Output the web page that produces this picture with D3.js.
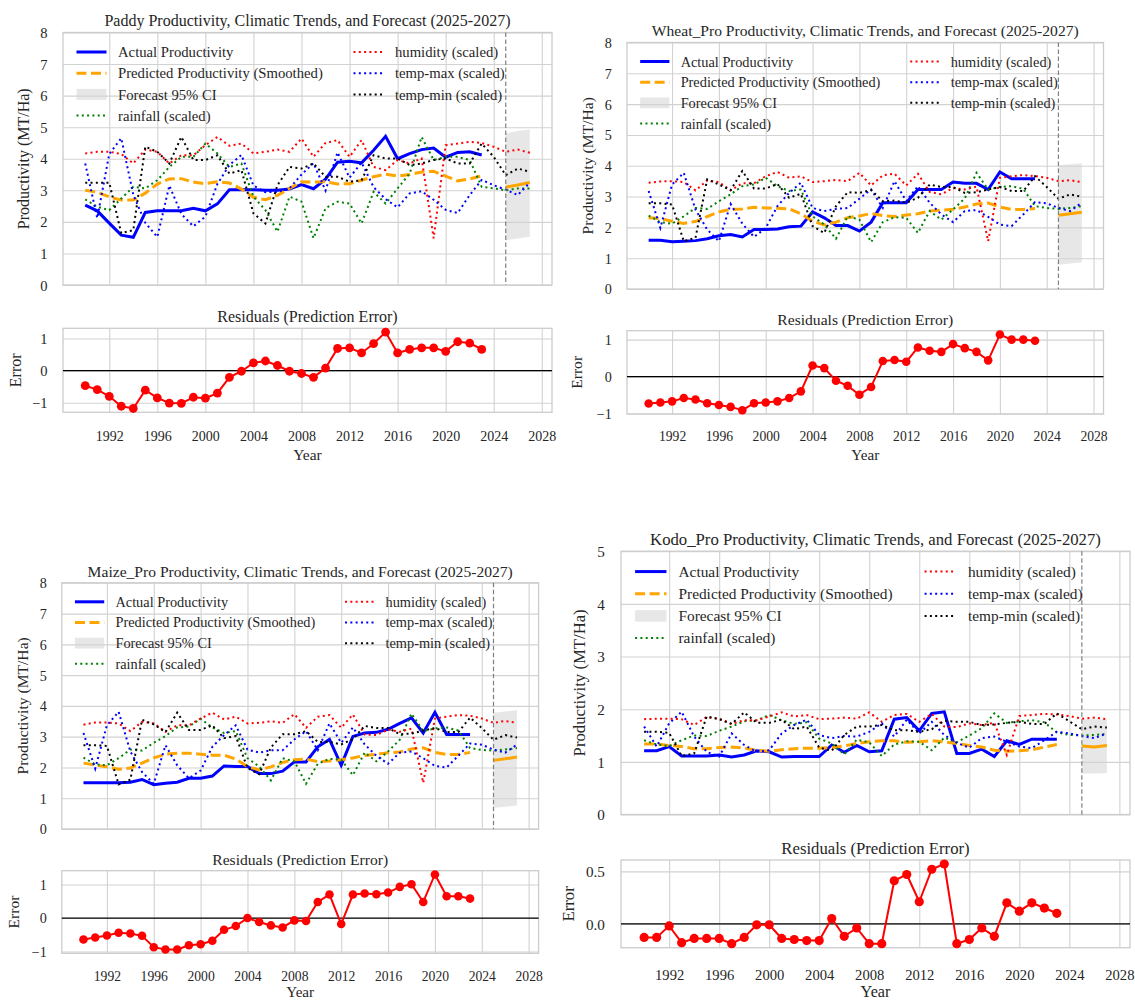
<!DOCTYPE html>
<html>
<head>
<meta charset="utf-8">
<script src="https://cdn.jsdelivr.net/npm/d3@7"></script>
<style>
body { margin: 0; background: #fff; }
svg { display: block; }
</style>
</head>
<body>
<svg id="fig" width="1135" height="1000"></svg>
<script>
// years on the x axis
var histYears = [1990,1991,1992,1993,1994,1995,1996,1997,1998,1999,2000,2001,2002,2003,2004,2005,2006,2007,2008,2009,2010,2011,2012,2013,2014,2015,2016,2017,2018,2019,2020,2021,2022,2023]
var climYears = [1990,1991,1992,1993,1994,1995,1996,1997,1998,1999,2000,2001,2002,2003,2004,2005,2006,2007,2008,2009,2010,2011,2012,2013,2014,2015,2016,2017,2018,2019,2020,2021,2022,2023,2024,2025,2026,2027]
var forecastYears = [2025, 2026, 2027]
var xTicks = [1992, 1996, 2000, 2004, 2008, 2012, 2016, 2020, 2024, 2028]
var forecastStart = 2025

var legendLabels = ["Actual Productivity", "Predicted Productivity (Smoothed)", "Forecast 95% CI", "rainfall (scaled)",
                    "humidity (scaled)", "temp-max (scaled)", "temp-min (scaled)"]

// Paddy
var paddyActual = [2.53,2.35,1.96,1.58,1.51,2.30,2.35,2.35,2.35,2.43,2.35,2.57,3.02,3.02,3.02,3.00,3.00,3.04,3.18,3.05,3.35,3.89,3.92,3.87,4.27,4.71,4.00,4.16,4.29,4.34,4.05,4.20,4.22,4.12]
var paddyPredicted = [3.00,2.94,2.79,2.69,2.69,2.91,3.20,3.36,3.37,3.26,3.21,3.27,3.23,3.04,2.78,2.70,2.84,3.06,3.27,3.26,3.27,3.20,3.21,3.32,3.43,3.51,3.45,3.50,3.58,3.60,3.45,3.30,3.36,3.46]
var paddyForecast = [3.10, 3.17, 3.25]
var paddyCiLow = [1.42, 1.47, 1.53]
var paddyCiHigh = [4.80, 4.88, 4.93]
var paddyRain = [2.71,2.48,2.37,2.74,3.11,3.06,3.32,3.74,4.06,4.06,4.48,4.17,3.74,3.85,2.80,2.37,1.69,2.80,2.64,1.48,2.43,2.64,2.58,1.95,2.95,2.58,3.06,3.53,4.69,3.96,4.06,4.06,3.96,3.11,3.06,3.00,3.06,3.06]
var paddyHumidity = [4.17,4.22,4.22,4.15,3.85,4.29,4.22,3.85,4.11,4.11,4.43,4.69,4.41,4.48,4.17,4.22,4.29,4.22,4.64,4.06,4.50,4.59,4.06,4.59,3.74,3.64,3.96,3.85,4.01,1.48,4.43,4.48,4.54,4.50,4.38,4.22,4.29,4.19]
var paddyTempMax = [3.85,2.12,4.15,4.65,2.86,1.97,1.52,3.15,2.25,1.86,2.17,3.20,3.80,4.12,3.15,2.94,2.95,3.06,3.50,3.86,2.99,4.20,3.40,3.88,3.10,2.72,2.46,2.90,2.97,2.70,2.38,2.28,2.85,3.33,3.16,3.02,2.85,3.24]
var paddyTempMin = [3.24,3.24,3.24,1.64,1.74,4.38,4.22,3.85,4.69,3.96,3.96,4.11,3.53,3.64,2.27,1.95,3.16,3.74,3.69,3.85,3.43,3.43,3.27,3.32,4.11,4.01,4.01,3.80,3.85,3.96,4.01,3.85,3.85,4.48,4.06,3.48,3.69,3.59]
var paddyResidual = [-0.47,-0.59,-0.80,-1.11,-1.18,-0.61,-0.85,-1.01,-1.02,-0.83,-0.86,-0.70,-0.21,-0.02,0.24,0.30,0.16,-0.02,-0.09,-0.21,0.08,0.69,0.71,0.55,0.84,1.20,0.55,0.66,0.71,0.71,0.60,0.90,0.86,0.66]

// Wheat_Pro
var wheatActual = [1.58,1.58,1.53,1.55,1.57,1.63,1.73,1.77,1.69,1.93,1.93,1.95,2.02,2.04,2.50,2.31,2.06,2.06,1.88,2.17,2.80,2.80,2.80,3.23,3.23,3.23,3.47,3.43,3.43,3.23,3.80,3.58,3.58,3.58]
var wheatPredicted = [2.31,2.28,2.20,2.13,2.19,2.35,2.50,2.59,2.60,2.65,2.63,2.62,2.60,2.44,2.20,2.08,2.17,2.31,2.37,2.45,2.38,2.35,2.40,2.44,2.53,2.56,2.59,2.66,2.76,2.79,2.66,2.58,2.58,2.61]
var wheatForecast = [2.39, 2.44, 2.49]
var wheatCiLow = [0.79, 0.83, 0.87]
var wheatCiHigh = [4.02, 4.05, 4.08]
var wheatRain = [2.38,2.17,2.12,2.36,2.63,2.60,2.85,3.07,3.34,3.39,3.61,3.34,3.18,3.23,2.36,2.09,1.63,2.36,2.25,1.52,2.17,2.33,2.31,1.82,2.53,2.25,2.58,2.94,3.77,3.23,3.31,3.34,3.25,2.69,2.63,2.60,2.63,2.69]
var wheatHumidity = [3.45,3.49,3.50,3.47,3.20,3.52,3.47,3.20,3.43,3.43,3.66,3.80,3.61,3.66,3.47,3.50,3.54,3.50,3.77,3.36,3.69,3.74,3.36,3.74,3.15,3.07,3.28,3.23,3.32,1.55,3.61,3.66,3.70,3.66,3.61,3.50,3.53,3.47]
var wheatTempMax = [3.18,1.98,3.39,3.77,2.58,1.93,1.55,2.76,2.12,1.69,1.98,2.69,3.12,3.45,2.63,2.53,2.60,2.63,2.93,3.23,2.63,3.50,2.85,3.34,2.80,2.42,2.17,2.53,2.56,2.34,2.09,2.04,2.42,2.82,2.78,2.63,2.53,2.80]
var wheatTempMin = [2.78,2.78,2.74,1.55,1.66,3.56,3.39,3.21,3.83,3.26,3.26,3.41,2.96,3.09,2.04,1.82,2.69,3.14,3.12,3.21,2.85,2.87,2.80,2.96,3.39,3.31,3.31,3.12,3.14,3.23,3.31,3.18,3.18,3.66,3.31,2.93,3.07,2.99]
var wheatResidual = [-0.73,-0.70,-0.67,-0.58,-0.62,-0.72,-0.77,-0.82,-0.91,-0.72,-0.70,-0.67,-0.58,-0.40,0.30,0.23,-0.11,-0.25,-0.49,-0.28,0.42,0.45,0.40,0.79,0.70,0.67,0.88,0.77,0.67,0.44,1.14,1.00,1.00,0.97]

// Maize_Pro
var maizeActual = [1.50,1.50,1.50,1.50,1.52,1.61,1.44,1.49,1.52,1.65,1.65,1.72,2.05,2.03,2.03,1.80,1.80,1.88,2.18,2.18,2.67,2.91,2.07,3.01,3.12,3.14,3.24,3.43,3.61,3.12,3.79,3.07,3.07,3.07]
var maizePredicted = [2.14,2.08,2.02,1.94,1.98,2.14,2.31,2.43,2.46,2.46,2.43,2.40,2.40,2.27,2.03,1.92,2.02,2.16,2.25,2.27,2.19,2.21,2.25,2.31,2.39,2.43,2.48,2.50,2.60,2.64,2.49,2.42,2.42,2.49]
var maizeForecast = [2.23, 2.28, 2.34]
var maizeCiLow = [0.69, 0.72, 0.76]
var maizeCiHigh = [3.78, 3.82, 3.86]
var maizeRain = [2.32,2.10,2.07,2.30,2.58,2.55,2.80,3.02,3.30,3.33,3.58,3.30,3.12,3.18,2.30,2.03,1.58,2.30,2.20,1.47,2.12,2.28,2.25,1.75,2.48,2.20,2.52,2.90,3.75,3.18,3.27,3.30,3.20,2.63,2.57,2.55,2.58,2.63]
var maizeHumidity = [3.39,3.46,3.46,3.43,3.18,3.48,3.43,3.16,3.37,3.37,3.59,3.78,3.56,3.65,3.43,3.45,3.50,3.45,3.73,3.29,3.65,3.70,3.29,3.72,3.07,3.05,3.23,3.16,3.26,1.50,3.59,3.65,3.70,3.68,3.59,3.45,3.51,3.45]
var maizeTempMax = [3.12,1.96,3.37,3.81,2.52,1.85,1.47,2.72,2.07,1.65,1.90,2.67,3.05,3.37,2.58,2.48,2.56,2.56,2.91,3.18,2.56,3.43,2.80,3.30,2.75,2.38,2.12,2.48,2.52,2.30,2.05,2.00,2.38,2.78,2.74,2.58,2.48,2.74]
var maizeTempMin = [2.72,2.72,2.70,1.45,1.60,3.55,3.40,3.15,3.78,3.22,3.22,3.37,2.95,3.02,1.98,1.78,2.65,3.08,3.08,3.18,2.83,2.83,2.75,2.92,3.35,3.28,3.28,3.08,3.10,3.20,3.28,3.15,3.15,3.62,3.28,2.90,3.05,2.97]
var maizeResidual = [-0.64,-0.58,-0.52,-0.44,-0.46,-0.53,-0.87,-0.94,-0.94,-0.81,-0.78,-0.68,-0.35,-0.24,0.00,-0.12,-0.22,-0.28,-0.07,-0.09,0.48,0.70,-0.18,0.70,0.73,0.71,0.76,0.93,1.01,0.48,1.30,0.65,0.65,0.58]

// Kodo_Pro
var kodoActual = [1.21,1.21,1.29,1.11,1.11,1.11,1.13,1.09,1.13,1.21,1.19,1.09,1.10,1.10,1.10,1.32,1.18,1.31,1.19,1.21,1.81,1.84,1.59,1.92,1.95,1.16,1.16,1.24,1.10,1.40,1.33,1.43,1.43,1.43]
var kodoPredicted = [1.34,1.34,1.31,1.29,1.25,1.25,1.27,1.28,1.26,1.22,1.20,1.23,1.25,1.26,1.26,1.27,1.30,1.35,1.38,1.40,1.40,1.37,1.38,1.40,1.38,1.35,1.31,1.28,1.22,1.20,1.21,1.23,1.28,1.33]
var kodoForecast = [1.30, 1.28, 1.31]
var kodoCiLow = [0.78, 0.78, 0.79]
var kodoCiHigh = [1.81, 1.81, 1.81]
var kodoRain = [1.41,1.33,1.30,1.41,1.50,1.49,1.59,1.67,1.77,1.79,1.89,1.79,1.72,1.75,1.44,1.35,1.14,1.42,1.37,1.11,1.33,1.39,1.38,1.22,1.46,1.37,1.50,1.64,1.92,1.74,1.77,1.79,1.75,1.56,1.51,1.50,1.51,1.53]
var kodoHumidity = [1.81,1.82,1.82,1.81,1.70,1.85,1.82,1.72,1.79,1.79,1.86,1.94,1.86,1.89,1.81,1.82,1.84,1.82,1.94,1.76,1.89,1.91,1.76,1.91,1.67,1.66,1.73,1.70,1.74,1.13,1.87,1.89,1.91,1.90,1.87,1.82,1.84,1.81]
var kodoTempMax = [1.67,1.29,1.73,1.95,1.48,1.19,1.10,1.54,1.32,1.19,1.22,1.54,1.70,1.80,1.51,1.45,1.49,1.48,1.57,1.73,1.48,1.80,1.54,1.76,1.51,1.36,1.27,1.45,1.48,1.38,1.29,1.26,1.41,1.57,1.54,1.49,1.45,1.54]
var kodoTempMin = [1.57,1.57,1.55,1.11,1.16,1.86,1.81,1.72,1.94,1.74,1.74,1.80,1.62,1.67,1.27,1.21,1.51,1.67,1.67,1.70,1.60,1.60,1.57,1.62,1.78,1.76,1.76,1.70,1.71,1.74,1.76,1.72,1.72,1.92,1.77,1.62,1.67,1.65]
var kodoResidual = [-0.13,-0.13,-0.02,-0.18,-0.14,-0.14,-0.14,-0.19,-0.13,-0.01,-0.01,-0.14,-0.15,-0.16,-0.16,0.05,-0.12,-0.04,-0.19,-0.19,0.41,0.47,0.21,0.52,0.57,-0.19,-0.15,-0.04,-0.12,0.20,0.12,0.20,0.15,0.10]

var crops = [
    {name: "Paddy", ymax: 8, actual: paddyActual, predicted: paddyPredicted, forecast: paddyForecast, ciLow: paddyCiLow, ciHigh: paddyCiHigh,
     clim: [paddyRain, paddyHumidity, paddyTempMax, paddyTempMin], residual: paddyResidual, resTicks: [-1, 0, 1], resFmt: "d"},
    {name: "Wheat_Pro", ymax: 8, actual: wheatActual, predicted: wheatPredicted, forecast: wheatForecast, ciLow: wheatCiLow, ciHigh: wheatCiHigh,
     clim: [wheatRain, wheatHumidity, wheatTempMax, wheatTempMin], residual: wheatResidual, resTicks: [-1, 0, 1], resFmt: "d"},
    {name: "Maize_Pro", ymax: 8, actual: maizeActual, predicted: maizePredicted, forecast: maizeForecast, ciLow: maizeCiLow, ciHigh: maizeCiHigh,
     clim: [maizeRain, maizeHumidity, maizeTempMax, maizeTempMin], residual: maizeResidual, resTicks: [-1, 0, 1], resFmt: "d"},
    {name: "Kodo_Pro", ymax: 5, actual: kodoActual, predicted: kodoPredicted, forecast: kodoForecast, ciLow: kodoCiLow, ciHigh: kodoCiHigh,
     clim: [kodoRain, kodoHumidity, kodoTempMax, kodoTempMin], residual: kodoResidual, resTicks: [0, 0.5], resFmt: ".1f"}
]

// where each panel sits on the page (k = text scale of that panel)
var layout = [
    {k: 1.0,   x0: 63,   x1: 552,    top: 32.5,  bottom: 285,   rTop: 328.3, rBottom: 412.3, errDx: 48, tickDy: 23.4, yearDy: 42.7},
    {k: 0.975, x0: 627,  x1: 1103.5, top: 42.5,  bottom: 289,   rTop: 330.7, rBottom: 414,   errDx: 50, tickDy: 22.7, yearDy: 41},
    {k: 0.975, x0: 61.8, x1: 538.6,  top: 582.8, bottom: 829,   rTop: 870.7, rBottom: 953.3, errDx: 48, tickDy: 22.7, yearDy: 38.5},
    {k: 1.045, x0: 621,  x1: 1130,   top: 551.2, bottom: 814.5, rTop: 860,   rBottom: 947.7, errDx: 53, tickDy: 27.3, yearDy: 43.5}
]

var font = "'Liberation Serif', 'Times New Roman', serif"
var textColor = "#262626"
var gridColor = "#d2d2d2"
var climColors = ["#008000", "#ff0000", "#0000ff", "#000000"]
var dotted = "2,3.3"

var svg = d3.select("#fig")

// matplotlib style 5% padding
function padded(ext) {
    var r = ext[1] - ext[0]
    return [ext[0] - 0.05 * r, ext[1] + 0.05 * r]
}
var xDomain = padded(d3.extent(climYears))

function styleAxis(sel, fs) {
    sel.selectAll(".domain").remove()
    sel.selectAll(".tick line").attr("stroke", gridColor).attr("stroke-width", 1.1)
    sel.selectAll("text").attr("font-family", font).attr("font-size", fs).attr("fill", textColor)
}

function drawPanel(c, L) {
    var k = L.k
    var x = d3.scaleLinear().domain(xDomain).range([L.x0, L.x1])
    var y = d3.scaleLinear().domain([0, c.ymax]).range([L.bottom, L.top])
    var g = svg.append("g")

    // grid
    g.append("g")
        .attr("transform", "translate(0," + L.bottom + ")")
        .call(d3.axisBottom(x).tickValues(xTicks).tickSize(-(L.bottom - L.top)).tickFormat(""))
        .call(styleAxis, 14 * k)
    g.append("g")
        .attr("transform", "translate(" + L.x0 + ",0)")
        .call(d3.axisLeft(y).ticks(c.ymax).tickSize(-(L.x1 - L.x0)).tickPadding(15.5 * k))
        .call(styleAxis, 14.5 * k)
        .selectAll("text").attr("dy", "0.35em")
    g.append("rect")
        .attr("x", L.x0).attr("y", L.top)
        .attr("width", L.x1 - L.x0).attr("height", L.bottom - L.top)
        .attr("fill", "none").attr("stroke", "#cccccc").attr("stroke-width", 1.3)

    // forecast interval
    var ci = forecastYears.map((yr, i) => ({yr: yr, lo: c.ciLow[i], hi: c.ciHigh[i]}))
    g.append("path")
        .datum(ci)
        .attr("d", d3.area().x(d => x(d.yr)).y0(d => y(d.lo)).y1(d => y(d.hi)))
        .attr("fill", "#d3d3d3").attr("opacity", 0.55)

    var line = d3.line().x(d => x(d[0])).y(d => y(d[1]))
    g.append("path")
        .attr("d", line(d3.zip(histYears, c.actual)))
        .attr("fill", "none").attr("stroke", "#0000ff").attr("stroke-width", 3)
    g.append("path")
        .attr("d", line(d3.zip(histYears, c.predicted)))
        .attr("fill", "none").attr("stroke", "#ffa500").attr("stroke-width", 3).attr("stroke-dasharray", "10,4.5")
    g.append("path")
        .attr("d", line(d3.zip(forecastYears, c.forecast)))
        .attr("fill", "none").attr("stroke", "#ffa500").attr("stroke-width", 3)
    c.clim.forEach((vals, i) => {
        g.append("path")
            .attr("d", line(d3.zip(climYears, vals)))
            .attr("fill", "none").attr("stroke", climColors[i]).attr("stroke-width", 2)
            .attr("stroke-dasharray", dotted)
    })
    g.append("line")
        .attr("x1", x(forecastStart)).attr("x2", x(forecastStart))
        .attr("y1", L.top).attr("y2", L.bottom)
        .attr("stroke", "#808080").attr("stroke-width", 1.2).attr("stroke-dasharray", "4.5,2.5")

    // legend, two columns
    legendLabels.forEach((lab, i) => {
        var col = i < 4 ? 0 : 1
        var row = i < 4 ? i : i - 4
        var hx = L.x0 + (col == 0 ? 13.5 : 290.5) * k
        var tx = L.x0 + (col == 0 ? 55 : 332) * k
        var cy = L.top + (19.5 + 21.2 * row) * k
        var hw = 30 * k
        if (i == 2) {
            g.append("rect").attr("x", hx).attr("y", cy - 5.5 * k).attr("width", hw).attr("height", 11 * k)
                .attr("fill", "#d3d3d3").attr("opacity", 0.55)
        } else {
            var h = g.append("line").attr("x1", hx).attr("x2", hx + hw).attr("y1", cy).attr("y2", cy)
            if (i == 0) h.attr("stroke", "#0000ff").attr("stroke-width", 3)
            else if (i == 1) h.attr("stroke", "#ffa500").attr("stroke-width", 3).attr("stroke-dasharray", "10,4.5")
            else h.attr("stroke", climColors[i - 3]).attr("stroke-width", 2).attr("stroke-dasharray", dotted)
        }
        g.append("text").attr("x", tx).attr("y", cy).attr("dy", "0.35em")
            .attr("font-family", font).attr("font-size", 14.7 * k).attr("fill", textColor)
            .text(lab)
    })

    // titles and labels
    g.append("text")
        .attr("x", (L.x0 + L.x1) / 2).attr("y", L.top - 12 * k).attr("dy", "0.35em")
        .attr("text-anchor", "middle").attr("font-family", font).attr("font-size", 16 * k).attr("fill", textColor)
        .text(c.name + " Productivity, Climatic Trends, and Forecast (2025-2027)")
    g.append("text")
        .attr("transform", "translate(" + (L.x0 - 40 * k) + "," + (L.top + L.bottom) / 2 + ") rotate(-90)")
        .attr("dy", "0.35em").attr("text-anchor", "middle")
        .attr("font-family", font).attr("font-size", 16 * k).attr("fill", textColor)
        .text("Productivity (MT/Ha)")

    // residual panel
    var yr = d3.scaleLinear().domain(padded(d3.extent(c.residual))).range([L.rBottom, L.rTop])
    var gr = svg.append("g")
    var xa = gr.append("g")
        .attr("transform", "translate(0," + L.rBottom + ")")
        .call(d3.axisBottom(x).tickValues(xTicks).tickSize(-(L.rBottom - L.rTop)).tickFormat(d3.format("d")))
        .call(styleAxis, 14 * k)
    xa.selectAll("text").attr("y", L.tickDy).attr("dy", "0.35em")
    gr.append("g")
        .attr("transform", "translate(" + L.x0 + ",0)")
        .call(d3.axisLeft(yr).tickValues(c.resTicks).tickFormat(d3.format(c.resFmt)).tickSize(-(L.x1 - L.x0)).tickPadding(15.5 * k))
        .call(styleAxis, 14.5 * k)
        .selectAll("text").attr("dy", "0.35em")
    gr.append("rect")
        .attr("x", L.x0).attr("y", L.rTop)
        .attr("width", L.x1 - L.x0).attr("height", L.rBottom - L.rTop)
        .attr("fill", "none").attr("stroke", "#cccccc").attr("stroke-width", 1.3)
    gr.append("line")
        .attr("x1", L.x0).attr("x2", L.x1).attr("y1", yr(0)).attr("y2", yr(0))
        .attr("stroke", "#000").attr("stroke-width", 1.3)
    var pts = d3.zip(histYears, c.residual)
    gr.append("path")
        .attr("d", d3.line().x(d => x(d[0])).y(d => yr(d[1]))(pts))
        .attr("fill", "none").attr("stroke", "#ff0000").attr("stroke-width", 2)
    gr.selectAll("circle").data(pts).join("circle")
        .attr("cx", d => x(d[0])).attr("cy", d => yr(d[1])).attr("r", 4.4 * k)
        .attr("fill", "#ff0000")
    gr.append("text")
        .attr("x", (L.x0 + L.x1) / 2).attr("y", L.rTop - 11.5 * k).attr("dy", "0.35em")
        .attr("text-anchor", "middle").attr("font-family", font).attr("font-size", 16 * k).attr("fill", textColor)
        .text("Residuals (Prediction Error)")
    gr.append("text")
        .attr("x", (L.x0 + L.x1) / 2).attr("y", L.rBottom + L.yearDy).attr("dy", "0.35em")
        .attr("text-anchor", "middle").attr("font-family", font).attr("font-size", 15.5 * k).attr("fill", textColor)
        .text("Year")
    gr.append("text")
        .attr("transform", "translate(" + (L.x0 - L.errDx) + "," + (L.rTop + L.rBottom) / 2 + ") rotate(-90)")
        .attr("dy", "0.35em").attr("text-anchor", "middle")
        .attr("font-family", font).attr("font-size", 16 * k).attr("fill", textColor)
        .text("Error")
}

crops.forEach((c, i) => drawPanel(c, layout[i]))
</script>
</body>
</html>
